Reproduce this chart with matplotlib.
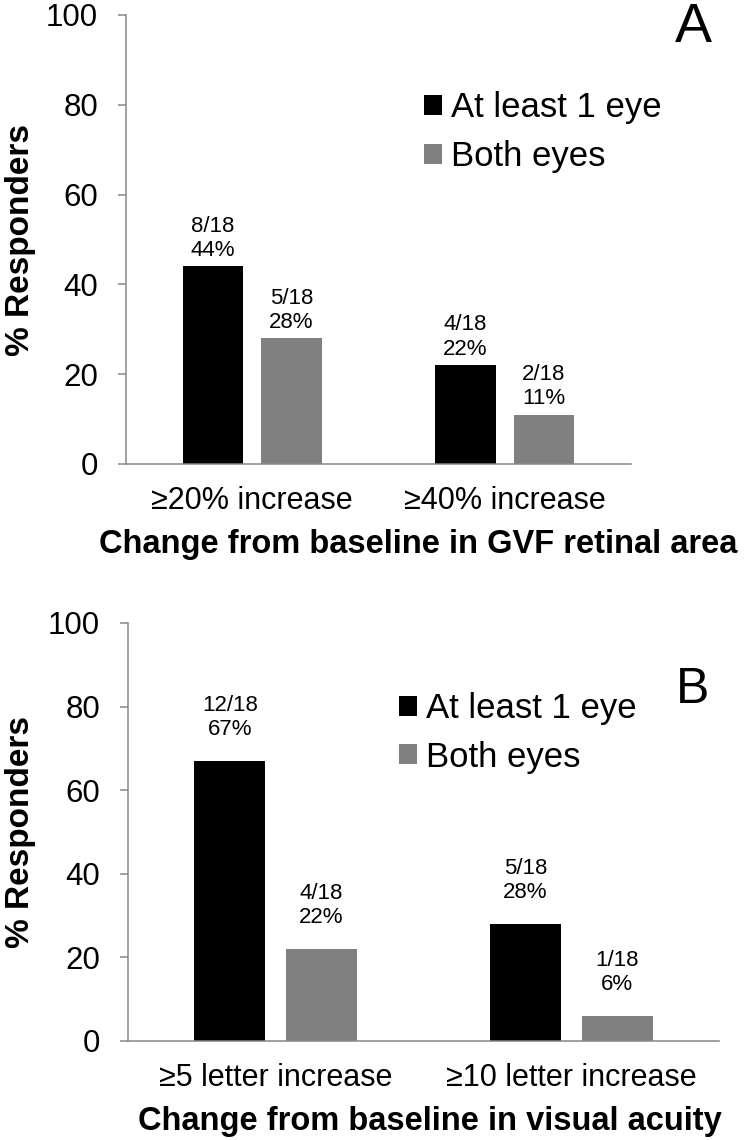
import numpy as np
import matplotlib
matplotlib.use("Agg")
import matplotlib.pyplot as plt

plt.rcParams['font.family'] = ['Liberation Sans', 'DejaVu Sans']

# Panel A: GVF retinal area
gvf_categories = ['≥20% increase', '≥40% increase']
gvf_one_eye = [44, 22]
gvf_both_eyes = [28, 11]
gvf_one_eye_n = ['8/18', '4/18']
gvf_both_eyes_n = ['5/18', '2/18']

# Panel B: visual acuity
va_categories = ['≥5 letter increase', '≥10 letter increase']
va_one_eye = [67, 28]
va_both_eyes = [22, 6]
va_one_eye_n = ['12/18', '5/18']
va_both_eyes_n = ['4/18', '1/18']

series_names = ['At least 1 eye', 'Both eyes']
series_colors = ['#000000', '#808080']
AXIS_GRAY = '#888888'


def draw_panel(ax, categories, one, both, one_n, both_n, xlabel, letter,
               label_offset, legend_anchor, letter_pos, letter_size):
    x = np.arange(len(categories))
    w = 0.24
    b1 = ax.bar(x - 0.155, one, w, color=series_colors[0], label=series_names[0])
    b2 = ax.bar(x + 0.155, both, w, color=series_colors[1], label=series_names[1])

    for bars, vals, ns in [(b1, one, one_n), (b2, both, both_n)]:
        for rect, v, n in zip(bars, vals, ns):
            ax.annotate(f'{n}\n{v}%',
                        xy=(rect.get_x() + rect.get_width() / 2, v),
                        xytext=(0, label_offset), textcoords='offset points',
                        ha='center', va='bottom', fontsize=16,
                        linespacing=1.2)

    ax.set_xlim(-0.5, 1.5)
    ax.set_ylim(0, 100)
    ax.set_yticks([0, 20, 40, 60, 80, 100])
    ax.set_xticks(x)
    ax.set_xticklabels(categories)

    for side in ['top', 'right']:
        ax.spines[side].set_visible(False)
    for side in ['left', 'bottom']:
        ax.spines[side].set_color(AXIS_GRAY)
        ax.spines[side].set_linewidth(1.1)

    ax.tick_params(axis='y', length=6, width=1.1, color=AXIS_GRAY,
                   pad=14, labelsize=22.5)
    ax.tick_params(axis='x', length=0, pad=16, labelsize=22)

    ax.set_ylabel('% Responders', fontsize=24, fontweight='bold')
    ax.set_xlabel(xlabel, fontsize=23.5, fontweight='bold')

    ax.legend(loc='upper left', bbox_to_anchor=legend_anchor, frameon=False,
              fontsize=25, handlelength=0.52, handleheight=0.52,
              handletextpad=0.25, labelspacing=0.45, borderpad=0,
              borderaxespad=0)

    ax.text(letter_pos[0], letter_pos[1], letter, transform=ax.transAxes,
            ha='center', va='center', fontsize=letter_size)


fig = plt.figure(figsize=(7.44, 11.4), dpi=100)

ax_a = fig.add_axes([126 / 744, 1 - 464 / 1140, 505 / 744, 449 / 1140])
draw_panel(ax_a, gvf_categories, gvf_one_eye, gvf_both_eyes,
           gvf_one_eye_n, gvf_both_eyes_n,
           'Change from baseline in GVF retinal area', 'A',
           label_offset=4, legend_anchor=(0.59, 0.83),
           letter_pos=(1.123, 0.971), letter_size=40)
ax_a.yaxis.set_label_coords(-0.178, 0.5)
ax_a.xaxis.set_label_coords(0.578, -0.145)

ax_b = fig.add_axes([128 / 744, 1 - 1041 / 1140, 591 / 744, 418 / 1140])
draw_panel(ax_b, va_categories, va_one_eye, va_both_eyes,
           va_one_eye_n, va_both_eyes_n,
           'Change from baseline in visual acuity', 'B',
           label_offset=15, legend_anchor=(0.4585, 0.835),
           letter_pos=(0.956, 0.84), letter_size=36)
ax_b.yaxis.set_label_coords(-0.155, 0.5)
ax_b.xaxis.set_label_coords(0.511, -0.155)

fig.savefig('out.png', dpi=100)
